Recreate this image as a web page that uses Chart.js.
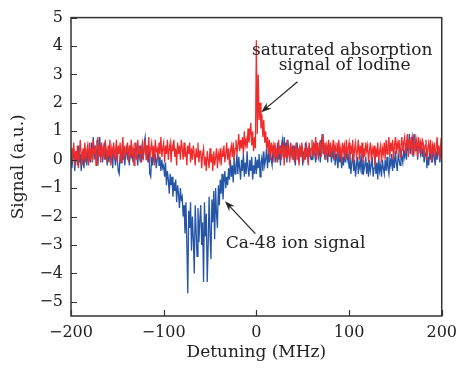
<!DOCTYPE html>
<html>
<head>
<meta charset="utf-8">
<script src="https://cdn.jsdelivr.net/npm/chart.js@4.4.1/dist/chart.umd.min.js"></script>
<style>
  html, body { margin: 0; padding: 0; background: #fff; }
  canvas { display: block; }
</style>
</head>
<body>
<canvas id="grafico" width="464" height="375"></canvas>
<script>
// Grade de dessintonia (MHz), passo de 1 MHz de -200 a 200
const detuning = Array.from({ length: 401 }, (_, i) => -200 + i);

// Sinal de absorção saturada do iodo (vermelho)
const iodineSignal = [
  0.4, -0.1, 0.2, 0.6, -0.2, 0.3, 0.0, 0.5, -0.3, 0.2, 0.7, 0.1, -0.2, 0.4, 0.0, 0.6, -0.1, 0.3, 0.5, -0.2,
  0.6, 0.0, 0.4, -0.1, 0.7, 0.2, 0.5, -0.2, 0.3, 0.8, 0.1, 0.5, -0.1, 0.6, 0.2, 0.4, 0.0, 0.7, 0.3, -0.1,
  0.5, 0.1, 0.7, -0.2, 0.4, 0.2, 0.6, 0.0, 0.3, 0.7, -0.1, 0.5, 0.2, 0.6, -0.1, 0.4, 0.8, 0.0, 0.5, 0.2,
  0.3, 0.6, -0.1, 0.5, 0.1, 0.7, 0.2, 0.4, -0.2, 0.6, 0.3, 0.0, 0.7, 0.2, 0.5, -0.1, 0.4, 0.6, 0.1, 0.3,
  0.7, 0.0, 0.5, 0.2, 0.8, -0.1, 0.4, 0.6, 0.1, 0.5, -0.2, 0.7, 0.3, 0.4, 0.0, 0.6, 0.2, 0.8, 0.1, 0.4,
  0.6, -0.1, 0.5, 0.2, 0.7, 0.0, 0.4, 0.6, -0.1, 0.5, 0.3, 0.7, 0.1, 0.4, -0.2, 0.6, 0.2, 0.5, 0.0, 0.7,
  0.4, 0.0, 0.6, 0.1, 0.3, -0.2, 0.5, 0.2, 0.6, -0.1, 0.4, 0.0, 0.5, 0.2, -0.2, 0.4, 0.1, 0.6, -0.1, 0.3,
  0.3, -0.3, 0.2, 0.4, -0.2, 0.1, -0.4, 0.3, 0.0, -0.3, 0.4, -0.1, 0.2, -0.4, 0.3, -0.2, 0.1, 0.4, -0.3, 0.2,
  0.0, 0.4, -0.2, 0.3, 0.1, 0.5, -0.1, 0.2, 0.6, 0.0, 0.4, -0.2, 0.3, 0.5, 0.1, 0.6, 0.0, 0.4, 0.7, 0.2,
  0.5, 0.9, 0.3, 0.7, 0.4, 0.8, 0.2, 1.0, 0.5, 0.7, 0.4, 1.1, 0.6, 0.9, 1.3, 0.5, 1.0, 0.3, 0.8, 0.4,
  4.2, 0.9, 3.0, 1.4, 2.0, 1.1, 1.6, 0.8, 1.4, 0.6, 1.0, 0.4, 0.8, 0.2, 0.7, 0.0, 0.6, 0.3, 0.5, -0.1,
  0.6, 0.1, 0.4, -0.1, 0.7, 0.2, 0.5, 0.0, 0.3, 0.6, -0.2, 0.5, 0.1, 0.7, 0.2, 0.4, -0.1, 0.6, 0.3, 0.0,
  0.5, -0.1, 0.3, 0.6, 0.0, 0.4, -0.2, 0.5, 0.1, 0.6, 0.2, -0.1, 0.4, 0.0, 0.5, 0.3, -0.2, 0.6, 0.1, 0.4,
  0.7, 0.1, 0.5, 0.3, 0.8, 0.0, 0.6, 0.2, 0.4, 0.7, 0.1, 0.5, 0.9, 0.2, 0.6, 0.0, 0.5, 0.3, 0.7, 0.1,
  0.6, 0.2, 0.4, 0.7, 0.0, 0.5, 0.3, 0.6, 0.1, 0.7, 0.2, 0.4, -0.1, 0.6, 0.3, 0.5, 0.0, 0.7, 0.2, 0.4,
  0.6, 0.0, 0.5, 0.2, 0.7, -0.1, 0.4, 0.6, 0.1, 0.3, 0.7, 0.0, 0.5, 0.2, 0.6, -0.1, 0.4, 0.1, 0.6, 0.3,
  0.5, -0.1, 0.3, 0.6, 0.0, 0.4, 0.2, 0.5, -0.2, 0.4, 0.1, 0.6, 0.0, 0.3, 0.5, -0.1, 0.4, 0.2, 0.6, 0.0,
  0.7, 0.2, 0.5, 0.8, 0.1, 0.6, 0.3, 0.7, 0.0, 0.5, 0.8, 0.2, 0.6, 0.4, 0.7, 0.1, 0.5, 0.8, 0.3, 0.6,
  0.8, 0.2, 0.6, 0.9, 0.1, 0.7, 0.4, 0.8, 0.2, 0.6, 0.9, 0.3, 0.5, 0.7, 0.1, 0.8, 0.4, 0.6, 0.2, 0.7,
  0.6, 0.1, 0.5, 0.7, 0.0, 0.4, 0.6, 0.2, 0.7, -0.1, 0.5, 0.3, 0.6, 0.1, 0.4, 0.8, 0.2, 0.5, 0.0, 0.6,
  0.4
];

// Sinal dos íons de Ca-48 (azul)
const ionSignal = [
  0.2, -0.3, 0.1, 0.4, -0.4, 0.0, 0.3, -0.2, 0.5, -0.1, 0.2, -0.4, 0.3, 0.0, -0.3, 0.4, 0.1, -0.2, 0.3, -0.1,
  0.3, -0.1, 0.6, 0.1, 0.8, 0.0, 0.5, 0.2, 0.7, -0.2, 0.4, 0.8, 0.1, 0.5, -0.1, 0.3, 0.6, 0.0, 0.4, -0.2,
  0.3, -0.1, 0.4, 0.0, 0.2, -0.3, 0.5, 0.1, -0.2, 0.3, 0.0, -0.4, -0.5, 0.2, -0.1, 0.4, 0.0, 0.3, -0.2, 0.2,
  0.4, 0.0, 0.3, -0.2, 0.5, 0.1, 0.2, -0.1, 0.4, 0.0, 0.6, 0.2, -0.2, 0.3, 0.1, 0.5, -0.1, 0.4, 0.0, 0.6,
  0.8, 0.2, 0.5, -0.1, 0.3, -0.5, -0.6, 0.1, -0.2, 0.3, -0.1, 0.2, -0.3, 0.0, 0.4, -0.2, 0.1, -0.4, 0.0, -0.3,
  -0.2, -0.6, -0.1, -0.9, -0.4, -0.7, -1.2, -0.5, -0.9, -0.6, -1.3, -0.8, -1.1, -0.7, -1.5, -0.9, -1.2, -1.7, -1.0, -1.4,
  -1.3, -2.0, -1.6, -2.6, -1.5, -3.0, -4.7, -1.8, -2.4, -1.5, -3.2, -2.0, -2.8, -4.0, -1.6, -2.5, -3.4, -1.7, -2.9, -2.1,
  -1.6, -3.0, -2.2, -4.3, -1.5, -2.7, -1.9, -4.3, -3.0, -1.3, -2.6, -3.5, -1.4, -2.2, -1.1, -2.8, -1.0, -1.9, -2.4, -0.9,
  -1.6, -0.7, -1.2, -0.5, -1.4, -0.8, -0.4, -1.0, -0.6, -0.9, -0.3, -0.7, 0.0, -0.6, -0.2, -0.8, 0.1, -0.5, -0.3, 0.2,
  -0.5, 0.1, -0.3, -0.7, 0.0, -0.4, 0.2, -0.6, -0.1, -0.5, 0.3, -0.3, -0.6, 0.0, -0.4, 0.1, -0.7, -0.2, -0.5, 0.1,
  -0.5, 0.0, -0.3, 0.2, -0.6, -0.1, 0.1, -0.4, 0.3, -0.2, 0.0, 0.4, -0.3, 0.2, -0.1, 0.5, 0.0, -0.2, 0.4, 0.1,
  0.5, -0.1, 0.3, 0.6, 0.0, 0.4, -0.2, 0.5, 0.7, 0.1, 0.8, 0.2, 0.6, -0.1, 0.7, 0.3, 0.0, 0.5, 0.2, 0.4,
  0.0, 0.5, -0.2, 0.3, 0.6, 0.1, -0.1, 0.4, 0.2, 0.5, -0.2, 0.3, 0.0, 0.6, 0.1, 0.4, -0.1, 0.5, 0.2, 0.0,
  0.4, 0.0, 0.6, 0.2, -0.1, 0.5, 0.3, 0.1, 0.6, -0.1, 0.4, 0.9, 0.2, 0.5, 0.0, 0.4, 0.2, -0.1, 0.5, 0.1,
  0.4, -0.1, 0.3, 0.1, 0.5, -0.2, 0.2, 0.0, -0.3, 0.3, -0.1, 0.2, -0.3, 0.1, -0.2, 0.3, -0.1, 0.4, 0.0, 0.2,
  -0.3, 0.1, -0.5, -0.1, 0.2, -0.4, 0.0, -0.6, -0.2, 0.1, -0.5, -0.1, -0.3, 0.2, -0.5, 0.0, -0.4, -0.2, 0.1, -0.5,
  -0.1, -0.6, 0.0, -0.4, -0.2, 0.1, -0.6, -0.3, 0.0, -0.5, -0.1, -0.7, 0.1, -0.4, -0.2, -0.6, 0.0, -0.3, -0.5, 0.0,
  -0.4, 0.1, -0.3, -0.5, 0.0, -0.2, 0.2, -0.4, 0.1, -0.3, 0.3, -0.1, -0.4, 0.2, 0.0, -0.2, 0.4, 0.1, -0.1, 0.3,
  0.1, 0.5, 0.0, 0.7, 0.3, 0.9, 0.2, 0.6, 0.8, 0.1, 0.5, 0.9, 0.3, 0.6, 0.0, 0.7, 0.4, 0.2, 0.6, 0.1,
  0.4, -0.1, 0.2, 0.3, -0.3, 0.1, -0.2, 0.4, 0.0, 0.3, -0.1, 0.5, 0.1, -0.2, 0.3, 0.0, 0.4, 0.2, -0.1, 0.3,
  0.1
];

const xTicks = [-200, -100, 0, 100, 200];
const yTicks = [-5, -4, -3, -2, -1, 0, 1, 2, 3, 4, 5];

const fonte = 'DejaVu Serif, Liberation Serif, serif';

// Caixa do gráfico, marcas internas e anotações com setas
const molduraPlugin = {
  id: 'moldura',
  afterDraw(chart) {
    const ctx = chart.ctx;
    const a = chart.chartArea;
    const xs = chart.scales.x;
    const ys = chart.scales.y;
    ctx.save();
    ctx.strokeStyle = '#333';
    ctx.lineWidth = 1.5;
    ctx.strokeRect(a.left, a.top, a.right - a.left, a.bottom - a.top);

    ctx.lineWidth = 1.2;
    ctx.beginPath();
    xTicks.forEach(v => {
      const px = Math.round(xs.getPixelForValue(v)) + 0.5;
      ctx.moveTo(px, a.bottom);
      ctx.lineTo(px, a.bottom - 6);
    });
    yTicks.forEach(v => {
      const py = Math.round(ys.getPixelForValue(v)) + 0.5;
      ctx.moveTo(a.left, py);
      ctx.lineTo(a.left + 6, py);
    });
    ctx.stroke();

    // textos
    ctx.fillStyle = '#222';
    ctx.font = '17px ' + fonte;
    ctx.textAlign = 'center';
    ctx.textBaseline = 'middle';
    ctx.fillText('saturated absorption', xs.getPixelForValue(92.6), ys.getPixelForValue(3.85));
    ctx.fillText('signal of lodine', xs.getPixelForValue(95.2), ys.getPixelForValue(3.3));
    ctx.fillText('Ca-48 ion signal', xs.getPixelForValue(42.3), ys.getPixelForValue(-2.95));

    function seta(x1, y1, x2, y2) {
      const ax = xs.getPixelForValue(x1), ay = ys.getPixelForValue(y1);
      const bx = xs.getPixelForValue(x2), by = ys.getPixelForValue(y2);
      const ang = Math.atan2(by - ay, bx - ax);
      ctx.strokeStyle = '#222';
      ctx.lineWidth = 1.2;
      ctx.beginPath();
      ctx.moveTo(ax, ay);
      ctx.lineTo(bx - 6 * Math.cos(ang), by - 6 * Math.sin(ang));
      ctx.stroke();
      ctx.beginPath();
      ctx.moveTo(bx, by);
      ctx.lineTo(bx - 11 * Math.cos(ang - 0.35), by - 11 * Math.sin(ang - 0.35));
      ctx.lineTo(bx - 7 * Math.cos(ang), by - 7 * Math.sin(ang));
      ctx.lineTo(bx - 11 * Math.cos(ang + 0.35), by - 11 * Math.sin(ang + 0.35));
      ctx.closePath();
      ctx.fill();
    }
    seta(44.4, 2.74, 5.3, 1.67);
    seta(-1.1, -2.6, -33.9, -1.46);
    ctx.restore();
  }
};

const menos = v => String(v).replace('-', '\u2212');

new Chart(document.getElementById('grafico').getContext('2d'), {
  type: 'line',
  data: {
    datasets: [
      {
        label: 'saturated absorption signal of Iodine',
        data: detuning.map((x, i) => ({ x: x, y: iodineSignal[i] })),
        borderColor: '#f02b2b',
        borderWidth: 1.3,
        pointRadius: 0,
        tension: 0,
        order: 0
      },
      {
        label: 'Ca-48 ion signal',
        data: detuning.map((x, i) => ({ x: x, y: ionSignal[i] })),
        borderColor: '#2555a6',
        borderWidth: 1.3,
        pointRadius: 0,
        tension: 0,
        order: 1
      }
    ]
  },
  options: {
    responsive: false,
    animation: false,
    layout: { padding: { top: 14, right: 15, left: 0, bottom: 0 } },
    plugins: { legend: { display: false }, tooltip: { enabled: false } },
    scales: {
      x: {
        type: 'linear',
        min: -200,
        max: 200,
        grid: { display: false, drawTicks: false },
        border: { display: false },
        afterBuildTicks: s => { s.ticks = xTicks.map(v => ({ value: v })); },
        afterFit: s => { s.height = 59; },
        ticks: {
          color: '#222',
          font: { family: fonte, size: 16 },
          padding: 7,
          maxRotation: 0,
          callback: menos
        },
        title: {
          display: true,
          text: 'Detuning (MHz)',
          color: '#222',
          font: { family: fonte, size: 17 },
          padding: { top: 2, bottom: 12 }
        }
      },
      y: {
        min: -5.5,
        max: 5,
        grid: { display: false, drawTicks: false },
        border: { display: false },
        afterBuildTicks: s => { s.ticks = yTicks.map(v => ({ value: v })); },
        afterFit: s => { s.width = 71; },
        ticks: {
          color: '#222',
          font: { family: fonte, size: 16 },
          padding: 8,
          callback: menos
        },
        title: {
          display: true,
          text: 'Signal (a.u.)',
          color: '#222',
          font: { family: fonte, size: 17 },
          padding: { top: 8, bottom: 0 }
        }
      }
    }
  },
  plugins: [molduraPlugin]
});
</script>
</body>
</html>
